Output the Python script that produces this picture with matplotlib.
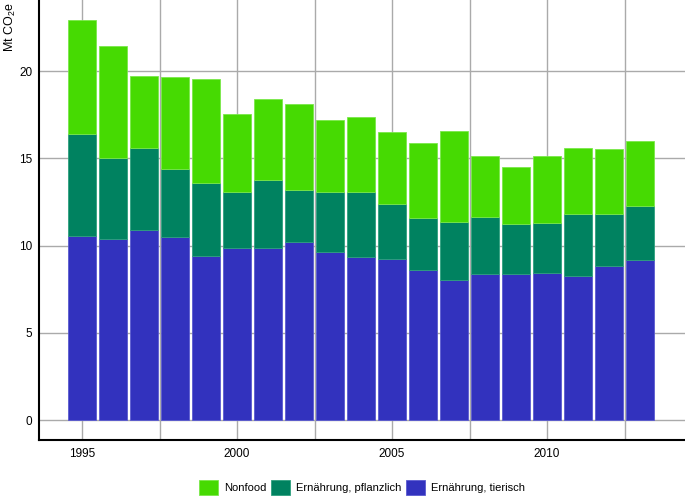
import numpy as np
import matplotlib
matplotlib.use("Agg")
import matplotlib.pyplot as plt

plt.rcParams['font.family'] = ['Liberation Sans', 'DejaVu Sans']
plt.rcParams['mathtext.default'] = 'regular'

years = np.arange(1995, 2014)
# top of each layer (cumulative)
top_tierisch = [10.58, 10.37, 10.89, 10.47, 9.40, 9.88, 9.88, 10.20, 9.63, 9.36,
                9.25, 8.60, 8.02, 8.39, 8.39, 8.44, 8.29, 8.84, 9.19]
top_pflanzlich = [16.39, 15.01, 15.61, 14.38, 13.58, 13.08, 13.79, 13.18, 13.05, 13.08,
                  12.38, 11.59, 11.37, 11.63, 11.27, 11.31, 11.81, 11.81, 12.28]
top_total = [22.90, 21.41, 19.70, 19.66, 19.54, 17.55, 18.38, 18.11, 17.21, 17.36,
             16.50, 15.86, 16.56, 15.11, 14.52, 15.13, 15.59, 15.53, 15.97]

tierisch = np.array(top_tierisch)
pflanzlich = np.array(top_pflanzlich) - tierisch
nonfood = np.array(top_total) - np.array(top_pflanzlich)

c_tier = '#3232BE'
c_pfl = '#008260'
c_non = '#46DA02'

fig = plt.figure(figsize=(6.85, 5.0), dpi=100)
ax = fig.add_axes([0.057, 0.121, 0.943, 0.879])

b1 = ax.bar(years, tierisch, width=0.9, color=c_tier, edgecolor='#5a5ad0', linewidth=0.6, zorder=3)
b2 = ax.bar(years, pflanzlich, width=0.9, bottom=tierisch, color=c_pfl,
            edgecolor='#2ea07e', linewidth=0.6, zorder=3)
b3 = ax.bar(years, nonfood, width=0.9, bottom=tierisch + pflanzlich, color=c_non,
            edgecolor='#7ae84a', linewidth=0.6, zorder=3)

ax.set_xlim(1993.61, 2014.45)
ax.set_ylim(-1.1, 24.07)
ax.set_yticks([0, 5, 10, 15, 20])
ax.set_xticks([1995, 2000, 2005, 2010])
ax.set_xticks(np.arange(1997.5, 2013, 5), minor=True)

ax.grid(True, which='both', color='#aaaaaa', linewidth=1.0, zorder=0)
ax.tick_params(which='both', length=0)
ax.tick_params(axis='x', pad=6, labelsize=8.5)
ax.tick_params(axis='y', pad=5, labelsize=8.5)

for s in ['top', 'right']:
    ax.spines[s].set_visible(False)
ax.spines['left'].set_linewidth(1.5)
ax.spines['bottom'].set_linewidth(1.5)

fig.text(0.004, 0.995, 'Mt CO$_2$e', rotation=90, va='top', ha='left', fontsize=9)

ax.legend([b3, b2, b1], ['Nonfood', 'Ernährung, pflanzlich', 'Ernährung, tierisch'],
          loc='center', bbox_to_anchor=(0.5, -0.11), ncol=3, frameon=False,
          fontsize=8, handlelength=1.7, handleheight=1.7, handletextpad=0.5,
          columnspacing=0.45)

fig.savefig('out.png', dpi=100)
